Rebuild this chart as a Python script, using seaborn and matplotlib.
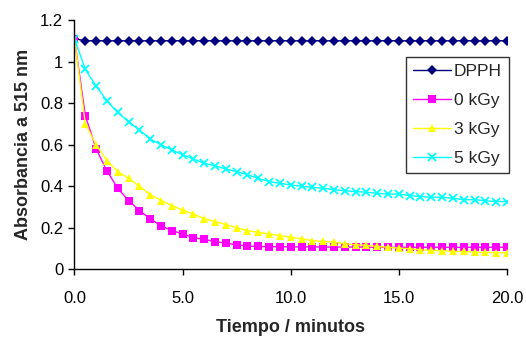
import numpy as np
import pandas as pd
import matplotlib
matplotlib.use("Agg")
import matplotlib.pyplot as plt
import seaborn as sns

tiempo = [i * 0.5 for i in range(41)]

dpph = [1.11] + [1.10] * 40

kgy0 = [1.11, 0.74, 0.58, 0.474, 0.39, 0.331, 0.283, 0.243, 0.21, 0.186,
        0.171, 0.152, 0.144, 0.133, 0.126, 0.118, 0.112, 0.110, 0.109, 0.109,
        0.108, 0.108, 0.108, 0.107, 0.107, 0.107, 0.107, 0.107, 0.106, 0.106,
        0.106, 0.106, 0.106, 0.106, 0.106, 0.106, 0.106, 0.106, 0.106, 0.106, 0.106]

kgy3 = [1.11, 0.70, 0.60, 0.523, 0.47, 0.438, 0.40, 0.36, 0.331, 0.307,
        0.285, 0.266, 0.243, 0.23, 0.215, 0.20, 0.186, 0.178, 0.17, 0.162,
        0.154, 0.147, 0.138, 0.134, 0.131, 0.123, 0.118, 0.115, 0.11, 0.106,
        0.102, 0.099, 0.094, 0.091, 0.09, 0.086, 0.086, 0.082, 0.082, 0.08, 0.08]

kgy5 = [1.11, 0.962, 0.882, 0.811, 0.755, 0.71, 0.671, 0.627, 0.60, 0.575,
        0.551, 0.531, 0.51, 0.498, 0.483, 0.47, 0.455, 0.438, 0.422, 0.414,
        0.406, 0.40, 0.395, 0.39, 0.383, 0.378, 0.374, 0.371, 0.366, 0.362,
        0.362, 0.355, 0.35, 0.347, 0.347, 0.342, 0.335, 0.335, 0.33, 0.326, 0.326]

series_names = ["DPPH", "0 kGy", "3 kGy", "5 kGy"]
series_values = [dpph, kgy0, kgy3, kgy5]
colors = ["#000080", "#FF00FF", "#FFFF00", "#00FFFF"]
markers = ["D", "s", "^", "x"]
marker_sizes = [5.5, 5.2, 6.0, 5.5]

x_ticks = [0, 5, 10, 15, 20]
x_ticklabels = ["0.0", "5.0", "10.0", "15.0", "20.0"]
y_ticks = [0, 0.2, 0.4, 0.6, 0.8, 1.0, 1.2]
y_ticklabels = ["0", "0.2", "0.4", "0.6", "0.8", "1", "1.2"]

rows = []
for name, vals in zip(series_names, series_values):
    for t, v in zip(tiempo, vals):
        rows.append({"Tiempo": t, "Abs": v, "Serie": name})
df = pd.DataFrame(rows)

sns.set_style("white")
plt.rcParams["font.family"] = ["Liberation Sans", "DejaVu Sans"]

fig = plt.figure(figsize=(5.26, 3.37), dpi=100)
ax = fig.add_axes([0.1416, 0.2009, 0.8222, 0.7398])

for name, col, mk, ms in zip(series_names, colors, markers, marker_sizes):
    sub = df[df["Serie"] == name]
    mew = 1.3 if mk == "x" else 0
    sns.lineplot(data=sub, x="Tiempo", y="Abs", ax=ax, color=col, marker=mk,
                 linewidth=1.0, label=name, markeredgecolor=col,
                 markersize=ms, markeredgewidth=mew)

ax.set_xlim(0, 20)
ax.set_ylim(0, 1.2)
ax.set_xticks(x_ticks)
ax.set_xticklabels(x_ticklabels)
ax.set_yticks(y_ticks)
ax.set_yticklabels(y_ticklabels)
ax.tick_params(axis="both", direction="out", length=4.5, width=1, colors="black",
               labelsize=12, bottom=True, left=True)
ax.tick_params(axis="x", pad=11)
ax.tick_params(axis="y", pad=3.5)
for s in ["top", "right"]:
    ax.spines[s].set_visible(False)
for s in ["left", "bottom"]:
    ax.spines[s].set_color("black")
    ax.spines[s].set_linewidth(1)

ax.set_xlabel("Tiempo / minutos", fontsize=13, fontweight="bold", labelpad=9.5)
ax.set_ylabel("Absorbancia a 515 nm", fontsize=13, fontweight="bold", labelpad=6)

leg = ax.legend(loc="upper left", bbox_to_anchor=(0.7665, 0.853), frameon=True,
                fancybox=False, edgecolor="black", fontsize=12.5, handlelength=2.15,
                borderpad=0.42, labelspacing=0.8, handletextpad=0.2,
                borderaxespad=0)
leg.get_frame().set_linewidth(1)

fig.savefig("out.png", dpi=100)
